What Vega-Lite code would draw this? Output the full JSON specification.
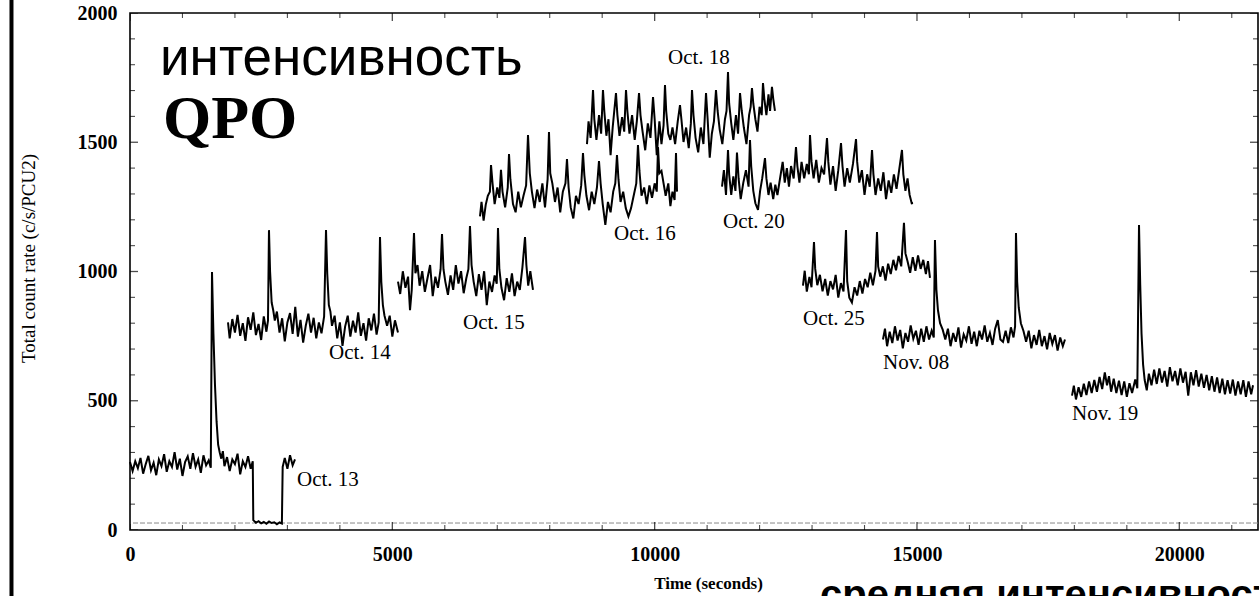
{
  "$schema": "https://vega.github.io/schema/vega-lite/v6.json",
  "width": 1128,
  "height": 517,
  "autosize": "none",
  "padding": {"left": 130, "top": 13, "right": 1, "bottom": 66},
  "background": "white",
  "config": {
    "view": {"stroke": "black", "strokeWidth": 1.6},
    "axis": {"grid": false, "domain": false, "labelFont": "Liberation Serif", "labelFontWeight": "bold", "labelFontSize": 20, "labelColor": "black", "tickColor": "black", "tickWidth": 1.2, "titleFont": "Liberation Serif", "titleColor": "black", "titleFontWeight": "normal", "labelFlush": false, "labelOverlap": false, "format": "d"}
  },
  "resolve": {"axis": {"x": "independent", "y": "independent"}},
  "datasets": {
    "lc": [
      {"s":"a","t":0,"r":263},{"s":"a","t":50,"r":228},{"s":"a","t":100,"r":266},{"s":"a","t":150,"r":239},{"s":"a","t":200,"r":279},{"s":"a","t":250,"r":218},{"s":"a","t":300,"r":255},{"s":"a","t":350,"r":287},{"s":"a","t":400,"r":231},{"s":"a","t":450,"r":260},{"s":"a","t":500,"r":212},{"s":"a","t":550,"r":273},{"s":"a","t":600,"r":247},{"s":"a","t":650,"r":293},{"s":"a","t":700,"r":225},{"s":"a","t":750,"r":266},{"s":"a","t":800,"r":244},{"s":"a","t":850,"r":301},{"s":"a","t":900,"r":234},{"s":"a","t":950,"r":276},{"s":"a","t":1000,"r":209},{"s":"a","t":1050,"r":263},{"s":"a","t":1100,"r":285},{"s":"a","t":1150,"r":237},{"s":"a","t":1200,"r":297},{"s":"a","t":1250,"r":245},{"s":"a","t":1300,"r":273},{"s":"a","t":1350,"r":221},{"s":"a","t":1400,"r":289},{"s":"a","t":1450,"r":250},{"s":"a","t":1500,"r":269},{"s":"a","t":1540,"r":241},{"s":"a","t":1563,"r":998},{"s":"a","t":1590,"r":760},{"s":"a","t":1620,"r":560},{"s":"a","t":1650,"r":420},{"s":"a","t":1680,"r":330},{"s":"a","t":1710,"r":300},{"s":"a","t":1740,"r":276},{"s":"a","t":1770,"r":305},{"s":"a","t":1800,"r":247},{"s":"a","t":1850,"r":282},{"s":"a","t":1900,"r":228},{"s":"a","t":1950,"r":273},{"s":"a","t":2000,"r":255},{"s":"a","t":2050,"r":295},{"s":"a","t":2100,"r":215},{"s":"a","t":2150,"r":266},{"s":"a","t":2200,"r":244},{"s":"a","t":2250,"r":285},{"s":"a","t":2300,"r":237},{"s":"a","t":2340,"r":266},{"s":"a","t":2350,"r":38},{"s":"a","t":2400,"r":28},{"s":"a","t":2450,"r":34},{"s":"a","t":2500,"r":26},{"s":"a","t":2550,"r":31},{"s":"a","t":2600,"r":24},{"s":"a","t":2650,"r":33},{"s":"a","t":2700,"r":27},{"s":"a","t":2750,"r":30},{"s":"a","t":2800,"r":22},{"s":"a","t":2850,"r":29},{"s":"a","t":2895,"r":25},{"s":"a","t":2910,"r":244},{"s":"a","t":2950,"r":279},{"s":"a","t":3000,"r":237},{"s":"a","t":3050,"r":289},{"s":"a","t":3100,"r":250},{"s":"a","t":3145,"r":273},
      {"s":"b","t":1868,"r":803},{"s":"b","t":1900,"r":741},{"s":"b","t":1950,"r":816},{"s":"b","t":2000,"r":764},{"s":"b","t":2050,"r":832},{"s":"b","t":2100,"r":751},{"s":"b","t":2150,"r":800},{"s":"b","t":2200,"r":732},{"s":"b","t":2250,"r":823},{"s":"b","t":2300,"r":774},{"s":"b","t":2350,"r":842},{"s":"b","t":2400,"r":754},{"s":"b","t":2450,"r":797},{"s":"b","t":2500,"r":735},{"s":"b","t":2550,"r":826},{"s":"b","t":2600,"r":767},{"s":"b","t":2630,"r":810},{"s":"b","t":2649,"r":1160},{"s":"b","t":2670,"r":1000},{"s":"b","t":2700,"r":880},{"s":"b","t":2730,"r":850},{"s":"b","t":2760,"r":810},{"s":"b","t":2800,"r":845},{"s":"b","t":2850,"r":764},{"s":"b","t":2900,"r":819},{"s":"b","t":2950,"r":730},{"s":"b","t":3000,"r":803},{"s":"b","t":3050,"r":839},{"s":"b","t":3100,"r":759},{"s":"b","t":3150,"r":863},{"s":"b","t":3200,"r":748},{"s":"b","t":3250,"r":813},{"s":"b","t":3300,"r":725},{"s":"b","t":3350,"r":790},{"s":"b","t":3400,"r":837},{"s":"b","t":3450,"r":764},{"s":"b","t":3500,"r":821},{"s":"b","t":3550,"r":741},{"s":"b","t":3600,"r":803},{"s":"b","t":3650,"r":761},{"s":"b","t":3700,"r":826},{"s":"b","t":3736,"r":1160},{"s":"b","t":3760,"r":990},{"s":"b","t":3790,"r":870},{"s":"b","t":3820,"r":845},{"s":"b","t":3850,"r":790},{"s":"b","t":3900,"r":829},{"s":"b","t":3950,"r":741},{"s":"b","t":4000,"r":803},{"s":"b","t":4050,"r":712},{"s":"b","t":4100,"r":787},{"s":"b","t":4150,"r":829},{"s":"b","t":4200,"r":748},{"s":"b","t":4250,"r":810},{"s":"b","t":4300,"r":764},{"s":"b","t":4350,"r":842},{"s":"b","t":4400,"r":751},{"s":"b","t":4450,"r":800},{"s":"b","t":4500,"r":733},{"s":"b","t":4550,"r":819},{"s":"b","t":4600,"r":772},{"s":"b","t":4650,"r":837},{"s":"b","t":4700,"r":756},{"s":"b","t":4740,"r":803},{"s":"b","t":4765,"r":1133},{"s":"b","t":4790,"r":960},{"s":"b","t":4820,"r":870},{"s":"b","t":4850,"r":830},{"s":"b","t":4900,"r":790},{"s":"b","t":4950,"r":829},{"s":"b","t":5000,"r":748},{"s":"b","t":5050,"r":811},{"s":"b","t":5108,"r":764},
      {"s":"c","t":5108,"r":961},{"s":"c","t":5150,"r":913},{"s":"c","t":5200,"r":1001},{"s":"c","t":5250,"r":937},{"s":"c","t":5300,"r":980},{"s":"c","t":5337,"r":850},{"s":"c","t":5370,"r":929},{"s":"c","t":5413,"r":1149},{"s":"c","t":5440,"r":993},{"s":"c","t":5480,"r":1025},{"s":"c","t":5520,"r":945},{"s":"c","t":5570,"r":1001},{"s":"c","t":5620,"r":921},{"s":"c","t":5670,"r":974},{"s":"c","t":5720,"r":1025},{"s":"c","t":5770,"r":905},{"s":"c","t":5820,"r":980},{"s":"c","t":5870,"r":937},{"s":"c","t":5920,"r":1009},{"s":"c","t":5947,"r":1145},{"s":"c","t":5975,"r":1009},{"s":"c","t":6010,"r":961},{"s":"c","t":6060,"r":910},{"s":"c","t":6110,"r":985},{"s":"c","t":6160,"r":929},{"s":"c","t":6210,"r":1025},{"s":"c","t":6260,"r":953},{"s":"c","t":6310,"r":1001},{"s":"c","t":6360,"r":916},{"s":"c","t":6410,"r":974},{"s":"c","t":6450,"r":1009},{"s":"c","t":6480,"r":1176},{"s":"c","t":6510,"r":1025},{"s":"c","t":6550,"r":961},{"s":"c","t":6600,"r":905},{"s":"c","t":6650,"r":990},{"s":"c","t":6700,"r":929},{"s":"c","t":6750,"r":1001},{"s":"c","t":6800,"r":870},{"s":"c","t":6850,"r":961},{"s":"c","t":6900,"r":921},{"s":"c","t":6950,"r":985},{"s":"c","t":6990,"r":953},{"s":"c","t":7014,"r":1168},{"s":"c","t":7040,"r":1009},{"s":"c","t":7080,"r":937},{"s":"c","t":7130,"r":889},{"s":"c","t":7180,"r":974},{"s":"c","t":7230,"r":921},{"s":"c","t":7280,"r":993},{"s":"c","t":7330,"r":905},{"s":"c","t":7380,"r":961},{"s":"c","t":7430,"r":929},{"s":"c","t":7480,"r":1017},{"s":"c","t":7529,"r":1133},{"s":"c","t":7555,"r":1025},{"s":"c","t":7590,"r":945},{"s":"c","t":7630,"r":1001},{"s":"c","t":7681,"r":929},
      {"s":"d","t":6671,"r":1213},{"s":"d","t":6700,"r":1269},{"s":"d","t":6740,"r":1197},{"s":"d","t":6780,"r":1258},{"s":"d","t":6820,"r":1293},{"s":"d","t":6860,"r":1309},{"s":"d","t":6881,"r":1412},{"s":"d","t":6910,"r":1341},{"s":"d","t":6950,"r":1261},{"s":"d","t":7000,"r":1325},{"s":"d","t":7040,"r":1285},{"s":"d","t":7071,"r":1393},{"s":"d","t":7100,"r":1309},{"s":"d","t":7150,"r":1248},{"s":"d","t":7200,"r":1325},{"s":"d","t":7224,"r":1454},{"s":"d","t":7250,"r":1357},{"s":"d","t":7300,"r":1261},{"s":"d","t":7350,"r":1229},{"s":"d","t":7400,"r":1309},{"s":"d","t":7450,"r":1248},{"s":"d","t":7500,"r":1293},{"s":"d","t":7550,"r":1333},{"s":"d","t":7586,"r":1528},{"s":"d","t":7620,"r":1380},{"s":"d","t":7660,"r":1309},{"s":"d","t":7710,"r":1245},{"s":"d","t":7760,"r":1317},{"s":"d","t":7810,"r":1269},{"s":"d","t":7860,"r":1341},{"s":"d","t":7910,"r":1248},{"s":"d","t":7960,"r":1357},{"s":"d","t":7986,"r":1540},{"s":"d","t":8010,"r":1380},{"s":"d","t":8050,"r":1341},{"s":"d","t":8100,"r":1269},{"s":"d","t":8150,"r":1325},{"s":"d","t":8200,"r":1229},{"s":"d","t":8250,"r":1309},{"s":"d","t":8300,"r":1341},{"s":"d","t":8329,"r":1435},{"s":"d","t":8360,"r":1325},{"s":"d","t":8400,"r":1248},{"s":"d","t":8450,"r":1205},{"s":"d","t":8500,"r":1293},{"s":"d","t":8550,"r":1261},{"s":"d","t":8600,"r":1333},{"s":"d","t":8634,"r":1458},{"s":"d","t":8660,"r":1373},{"s":"d","t":8700,"r":1293},{"s":"d","t":8750,"r":1237},{"s":"d","t":8800,"r":1309},{"s":"d","t":8850,"r":1261},{"s":"d","t":8900,"r":1325},{"s":"d","t":8939,"r":1427},{"s":"d","t":8970,"r":1341},{"s":"d","t":9010,"r":1261},{"s":"d","t":9060,"r":1180},{"s":"d","t":9110,"r":1269},{"s":"d","t":9160,"r":1229},{"s":"d","t":9210,"r":1309},{"s":"d","t":9250,"r":1341},{"s":"d","t":9282,"r":1450},{"s":"d","t":9310,"r":1357},{"s":"d","t":9350,"r":1269},{"s":"d","t":9400,"r":1309},{"s":"d","t":9450,"r":1245},{"s":"d","t":9500,"r":1213},{"s":"d","t":9550,"r":1245},{"s":"d","t":9600,"r":1293},{"s":"d","t":9650,"r":1341},{"s":"d","t":9682,"r":1489},{"s":"d","t":9710,"r":1389},{"s":"d","t":9750,"r":1293},{"s":"d","t":9800,"r":1325},{"s":"d","t":9850,"r":1261},{"s":"d","t":9900,"r":1333},{"s":"d","t":9950,"r":1285},{"s":"d","t":10000,"r":1341},{"s":"d","t":10040,"r":1309},{"s":"d","t":10064,"r":1481},{"s":"d","t":10090,"r":1380},{"s":"d","t":10130,"r":1389},{"s":"d","t":10170,"r":1341},{"s":"d","t":10210,"r":1293},{"s":"d","t":10260,"r":1341},{"s":"d","t":10300,"r":1253},{"s":"d","t":10340,"r":1309},{"s":"d","t":10380,"r":1277},{"s":"d","t":10407,"r":1458},{"s":"d","t":10426,"r":1309},
      {"s":"e","t":8710,"r":1493},{"s":"e","t":8740,"r":1581},{"s":"e","t":8780,"r":1517},{"s":"e","t":8825,"r":1702},{"s":"e","t":8850,"r":1589},{"s":"e","t":8890,"r":1509},{"s":"e","t":8940,"r":1605},{"s":"e","t":8980,"r":1533},{"s":"e","t":9015,"r":1702},{"s":"e","t":9040,"r":1621},{"s":"e","t":9080,"r":1525},{"s":"e","t":9120,"r":1589},{"s":"e","t":9160,"r":1450},{"s":"e","t":9200,"r":1557},{"s":"e","t":9230,"r":1621},{"s":"e","t":9263,"r":1690},{"s":"e","t":9290,"r":1605},{"s":"e","t":9330,"r":1525},{"s":"e","t":9380,"r":1597},{"s":"e","t":9420,"r":1541},{"s":"e","t":9454,"r":1702},{"s":"e","t":9480,"r":1621},{"s":"e","t":9520,"r":1533},{"s":"e","t":9570,"r":1605},{"s":"e","t":9620,"r":1509},{"s":"e","t":9660,"r":1581},{"s":"e","t":9702,"r":1690},{"s":"e","t":9730,"r":1605},{"s":"e","t":9770,"r":1541},{"s":"e","t":9820,"r":1469},{"s":"e","t":9870,"r":1573},{"s":"e","t":9920,"r":1517},{"s":"e","t":9969,"r":1675},{"s":"e","t":10000,"r":1589},{"s":"e","t":10040,"r":1450},{"s":"e","t":10090,"r":1581},{"s":"e","t":10130,"r":1493},{"s":"e","t":10170,"r":1565},{"s":"e","t":10197,"r":1721},{"s":"e","t":10220,"r":1621},{"s":"e","t":10260,"r":1533},{"s":"e","t":10300,"r":1509},{"s":"e","t":10340,"r":1557},{"s":"e","t":10390,"r":1493},{"s":"e","t":10440,"r":1581},{"s":"e","t":10483,"r":1644},{"s":"e","t":10510,"r":1589},{"s":"e","t":10550,"r":1501},{"s":"e","t":10600,"r":1557},{"s":"e","t":10650,"r":1477},{"s":"e","t":10690,"r":1573},{"s":"e","t":10712,"r":1702},{"s":"e","t":10740,"r":1605},{"s":"e","t":10780,"r":1517},{"s":"e","t":10830,"r":1461},{"s":"e","t":10880,"r":1557},{"s":"e","t":10930,"r":1493},{"s":"e","t":10979,"r":1690},{"s":"e","t":11010,"r":1589},{"s":"e","t":11050,"r":1440},{"s":"e","t":11090,"r":1533},{"s":"e","t":11130,"r":1581},{"s":"e","t":11169,"r":1702},{"s":"e","t":11200,"r":1621},{"s":"e","t":11240,"r":1549},{"s":"e","t":11290,"r":1493},{"s":"e","t":11340,"r":1589},{"s":"e","t":11370,"r":1621},{"s":"e","t":11398,"r":1772},{"s":"e","t":11420,"r":1650},{"s":"e","t":11460,"r":1573},{"s":"e","t":11500,"r":1509},{"s":"e","t":11550,"r":1605},{"s":"e","t":11590,"r":1533},{"s":"e","t":11627,"r":1690},{"s":"e","t":11660,"r":1621},{"s":"e","t":11700,"r":1557},{"s":"e","t":11750,"r":1493},{"s":"e","t":11800,"r":1605},{"s":"e","t":11830,"r":1637},{"s":"e","t":11855,"r":1710},{"s":"e","t":11880,"r":1650},{"s":"e","t":11920,"r":1589},{"s":"e","t":11960,"r":1541},{"s":"e","t":12000,"r":1637},{"s":"e","t":12040,"r":1605},{"s":"e","t":12065,"r":1729},{"s":"e","t":12090,"r":1669},{"s":"e","t":12130,"r":1605},{"s":"e","t":12170,"r":1685},{"s":"e","t":12200,"r":1621},{"s":"e","t":12236,"r":1714},{"s":"e","t":12260,"r":1669},{"s":"e","t":12293,"r":1621},
      {"s":"f","t":11284,"r":1328},{"s":"f","t":11320,"r":1392},{"s":"f","t":11360,"r":1296},{"s":"f","t":11398,"r":1470},{"s":"f","t":11420,"r":1376},{"s":"f","t":11460,"r":1296},{"s":"f","t":11500,"r":1368},{"s":"f","t":11540,"r":1312},{"s":"f","t":11569,"r":1460},{"s":"f","t":11600,"r":1360},{"s":"f","t":11640,"r":1280},{"s":"f","t":11690,"r":1344},{"s":"f","t":11740,"r":1392},{"s":"f","t":11790,"r":1328},{"s":"f","t":11817,"r":1509},{"s":"f","t":11840,"r":1408},{"s":"f","t":11880,"r":1312},{"s":"f","t":11920,"r":1264},{"s":"f","t":11970,"r":1238},{"s":"f","t":12010,"r":1312},{"s":"f","t":12050,"r":1360},{"s":"f","t":12103,"r":1439},{"s":"f","t":12130,"r":1360},{"s":"f","t":12170,"r":1296},{"s":"f","t":12210,"r":1344},{"s":"f","t":12260,"r":1280},{"s":"f","t":12300,"r":1336},{"s":"f","t":12340,"r":1296},{"s":"f","t":12440,"r":1424},{"s":"f","t":12480,"r":1344},{"s":"f","t":12520,"r":1400},{"s":"f","t":12560,"r":1328},{"s":"f","t":12600,"r":1408},{"s":"f","t":12650,"r":1360},{"s":"f","t":12694,"r":1481},{"s":"f","t":12720,"r":1408},{"s":"f","t":12760,"r":1344},{"s":"f","t":12800,"r":1424},{"s":"f","t":12850,"r":1360},{"s":"f","t":12900,"r":1416},{"s":"f","t":12940,"r":1376},{"s":"f","t":12961,"r":1528},{"s":"f","t":12990,"r":1424},{"s":"f","t":13030,"r":1360},{"s":"f","t":13080,"r":1432},{"s":"f","t":13130,"r":1344},{"s":"f","t":13180,"r":1400},{"s":"f","t":13230,"r":1376},{"s":"f","t":13285,"r":1516},{"s":"f","t":13310,"r":1424},{"s":"f","t":13350,"r":1336},{"s":"f","t":13400,"r":1408},{"s":"f","t":13450,"r":1312},{"s":"f","t":13500,"r":1392},{"s":"f","t":13552,"r":1497},{"s":"f","t":13580,"r":1408},{"s":"f","t":13620,"r":1328},{"s":"f","t":13670,"r":1400},{"s":"f","t":13720,"r":1344},{"s":"f","t":13780,"r":1416},{"s":"f","t":13838,"r":1512},{"s":"f","t":13860,"r":1424},{"s":"f","t":13900,"r":1344},{"s":"f","t":13950,"r":1392},{"s":"f","t":14000,"r":1296},{"s":"f","t":14050,"r":1376},{"s":"f","t":14100,"r":1328},{"s":"f","t":14143,"r":1470},{"s":"f","t":14170,"r":1376},{"s":"f","t":14210,"r":1296},{"s":"f","t":14260,"r":1360},{"s":"f","t":14310,"r":1312},{"s":"f","t":14360,"r":1384},{"s":"f","t":14410,"r":1280},{"s":"f","t":14460,"r":1352},{"s":"f","t":14510,"r":1304},{"s":"f","t":14560,"r":1376},{"s":"f","t":14610,"r":1320},{"s":"f","t":14660,"r":1392},{"s":"f","t":14714,"r":1470},{"s":"f","t":14740,"r":1376},{"s":"f","t":14780,"r":1312},{"s":"f","t":14820,"r":1360},{"s":"f","t":14860,"r":1296},{"s":"f","t":14900,"r":1264},{"s":"f","t":14924,"r":1265},
      {"s":"g","t":12827,"r":945},{"s":"g","t":12860,"r":1003},{"s":"g","t":12900,"r":922},{"s":"g","t":12950,"r":979},{"s":"g","t":12990,"r":939},{"s":"g","t":13037,"r":1114},{"s":"g","t":13060,"r":1011},{"s":"g","t":13100,"r":947},{"s":"g","t":13150,"r":987},{"s":"g","t":13200,"r":923},{"s":"g","t":13250,"r":971},{"s":"g","t":13300,"r":907},{"s":"g","t":13350,"r":963},{"s":"g","t":13400,"r":931},{"s":"g","t":13450,"r":987},{"s":"g","t":13500,"r":899},{"s":"g","t":13550,"r":955},{"s":"g","t":13600,"r":923},{"s":"g","t":13647,"r":1160},{"s":"g","t":13670,"r":963},{"s":"g","t":13710,"r":899},{"s":"g","t":13760,"r":880},{"s":"g","t":13810,"r":939},{"s":"g","t":13860,"r":907},{"s":"g","t":13910,"r":963},{"s":"g","t":13960,"r":915},{"s":"g","t":14010,"r":971},{"s":"g","t":14060,"r":939},{"s":"g","t":14110,"r":995},{"s":"g","t":14160,"r":947},{"s":"g","t":14210,"r":1003},{"s":"g","t":14238,"r":1153},{"s":"g","t":14260,"r":1020},{"s":"g","t":14300,"r":980},{"s":"g","t":14350,"r":1020},{"s":"g","t":14400,"r":965},{"s":"g","t":14450,"r":1030},{"s":"g","t":14500,"r":990},{"s":"g","t":14550,"r":1045},{"s":"g","t":14600,"r":1005},{"s":"g","t":14650,"r":1060},{"s":"g","t":14700,"r":1020},{"s":"g","t":14752,"r":1188},{"s":"g","t":14780,"r":1070},{"s":"g","t":14820,"r":1040},{"s":"g","t":14870,"r":995},{"s":"g","t":14920,"r":1055},{"s":"g","t":14970,"r":1003},{"s":"g","t":15020,"r":1062},{"s":"g","t":15070,"r":1010},{"s":"g","t":15120,"r":1045},{"s":"g","t":15170,"r":990},{"s":"g","t":15210,"r":1040},{"s":"g","t":15248,"r":975},
      {"s":"h","t":14352,"r":737},{"s":"h","t":14390,"r":779},{"s":"h","t":14430,"r":711},{"s":"h","t":14480,"r":767},{"s":"h","t":14530,"r":723},{"s":"h","t":14580,"r":788},{"s":"h","t":14630,"r":733},{"s":"h","t":14680,"r":774},{"s":"h","t":14730,"r":703},{"s":"h","t":14780,"r":762},{"s":"h","t":14830,"r":728},{"s":"h","t":14880,"r":791},{"s":"h","t":14930,"r":740},{"s":"h","t":14980,"r":771},{"s":"h","t":15030,"r":716},{"s":"h","t":15080,"r":779},{"s":"h","t":15130,"r":728},{"s":"h","t":15180,"r":788},{"s":"h","t":15230,"r":737},{"s":"h","t":15280,"r":771},{"s":"h","t":15320,"r":745},{"s":"h","t":15343,"r":1122},{"s":"h","t":15370,"r":930},{"s":"h","t":15400,"r":850},{"s":"h","t":15440,"r":800},{"s":"h","t":15490,"r":775},{"s":"h","t":15540,"r":737},{"s":"h","t":15590,"r":779},{"s":"h","t":15640,"r":711},{"s":"h","t":15690,"r":762},{"s":"h","t":15740,"r":728},{"s":"h","t":15790,"r":784},{"s":"h","t":15840,"r":706},{"s":"h","t":15890,"r":757},{"s":"h","t":15940,"r":733},{"s":"h","t":15990,"r":788},{"s":"h","t":16040,"r":720},{"s":"h","t":16090,"r":767},{"s":"h","t":16140,"r":711},{"s":"h","t":16190,"r":771},{"s":"h","t":16240,"r":737},{"s":"h","t":16290,"r":791},{"s":"h","t":16340,"r":728},{"s":"h","t":16390,"r":762},{"s":"h","t":16440,"r":716},{"s":"h","t":16490,"r":779},{"s":"h","t":16540,"r":812},{"s":"h","t":16590,"r":737},{"s":"h","t":16640,"r":728},{"s":"h","t":16690,"r":771},{"s":"h","t":16740,"r":723},{"s":"h","t":16790,"r":784},{"s":"h","t":16840,"r":745},{"s":"h","t":16870,"r":788},{"s":"h","t":16887,"r":1149},{"s":"h","t":16910,"r":960},{"s":"h","t":16940,"r":860},{"s":"h","t":16980,"r":800},{"s":"h","t":17030,"r":770},{"s":"h","t":17080,"r":728},{"s":"h","t":17130,"r":771},{"s":"h","t":17180,"r":703},{"s":"h","t":17230,"r":754},{"s":"h","t":17280,"r":716},{"s":"h","t":17330,"r":774},{"s":"h","t":17380,"r":711},{"s":"h","t":17430,"r":750},{"s":"h","t":17480,"r":699},{"s":"h","t":17530,"r":762},{"s":"h","t":17580,"r":720},{"s":"h","t":17630,"r":754},{"s":"h","t":17680,"r":694},{"s":"h","t":17730,"r":745},{"s":"h","t":17780,"r":711},{"s":"h","t":17821,"r":737},
      {"s":"i","t":17955,"r":520},{"s":"i","t":17990,"r":558},{"s":"i","t":18030,"r":505},{"s":"i","t":18080,"r":552},{"s":"i","t":18130,"r":515},{"s":"i","t":18180,"r":566},{"s":"i","t":18230,"r":522},{"s":"i","t":18280,"r":575},{"s":"i","t":18330,"r":530},{"s":"i","t":18380,"r":580},{"s":"i","t":18430,"r":535},{"s":"i","t":18480,"r":592},{"s":"i","t":18530,"r":545},{"s":"i","t":18580,"r":610},{"s":"i","t":18622,"r":560},{"s":"i","t":18660,"r":595},{"s":"i","t":18700,"r":535},{"s":"i","t":18750,"r":585},{"s":"i","t":18800,"r":530},{"s":"i","t":18850,"r":578},{"s":"i","t":18900,"r":522},{"s":"i","t":18950,"r":575},{"s":"i","t":19000,"r":515},{"s":"i","t":19050,"r":568},{"s":"i","t":19100,"r":530},{"s":"i","t":19160,"r":582},{"s":"i","t":19200,"r":548},{"s":"i","t":19232,"r":1180},{"s":"i","t":19255,"r":950},{"s":"i","t":19280,"r":760},{"s":"i","t":19310,"r":640},{"s":"i","t":19340,"r":580},{"s":"i","t":19380,"r":540},{"s":"i","t":19420,"r":605},{"s":"i","t":19470,"r":560},{"s":"i","t":19520,"r":620},{"s":"i","t":19570,"r":565},{"s":"i","t":19620,"r":625},{"s":"i","t":19670,"r":570},{"s":"i","t":19720,"r":615},{"s":"i","t":19770,"r":555},{"s":"i","t":19820,"r":630},{"s":"i","t":19870,"r":575},{"s":"i","t":19920,"r":615},{"s":"i","t":19970,"r":560},{"s":"i","t":20020,"r":625},{"s":"i","t":20070,"r":570},{"s":"i","t":20120,"r":612},{"s":"i","t":20170,"r":520},{"s":"i","t":20220,"r":610},{"s":"i","t":20270,"r":560},{"s":"i","t":20320,"r":618},{"s":"i","t":20370,"r":555},{"s":"i","t":20420,"r":605},{"s":"i","t":20470,"r":550},{"s":"i","t":20520,"r":600},{"s":"i","t":20570,"r":540},{"s":"i","t":20620,"r":595},{"s":"i","t":20670,"r":535},{"s":"i","t":20720,"r":590},{"s":"i","t":20770,"r":530},{"s":"i","t":20820,"r":585},{"s":"i","t":20870,"r":525},{"s":"i","t":20920,"r":580},{"s":"i","t":20970,"r":528},{"s":"i","t":21020,"r":582},{"s":"i","t":21070,"r":520},{"s":"i","t":21120,"r":575},{"s":"i","t":21170,"r":525},{"s":"i","t":21220,"r":580},{"s":"i","t":21270,"r":515},{"s":"i","t":21320,"r":575},{"s":"i","t":21370,"r":525},{"s":"i","t":21405,"r":560}
    ],
    "labels": [
      {"t":3183,"r":193,"label":"Oct. 13"},{"t":3793,"r":685,"label":"Oct. 14"},{"t":6347,"r":801,"label":"Oct. 15"},{"t":9225,"r":1145,"label":"Oct. 16"},{"t":10254,"r":1826,"label":"Oct. 18"},{"t":11303,"r":1191,"label":"Oct. 20"},{"t":12827,"r":816,"label":"Oct. 25"},{"t":14352,"r":646,"label":"Nov. 08"},{"t":17955,"r":449,"label":"Nov. 19"}
    ],
    "xmajor": [{"t":0},{"t":5000},{"t":10000},{"t":15000},{"t":20000}],
    "xminor": [{"t":1000},{"t":2000},{"t":3000},{"t":4000},{"t":6000},{"t":7000},{"t":8000},{"t":9000},{"t":11000},{"t":12000},{"t":13000},{"t":14000},{"t":16000},{"t":17000},{"t":18000},{"t":19000},{"t":21000}],
    "ymajor": [{"r":0},{"r":500},{"r":1000},{"r":1500},{"r":2000}],
    "yminor": [{"r":100},{"r":200},{"r":300},{"r":400},{"r":600},{"r":700},{"r":800},{"r":900},{"r":1100},{"r":1200},{"r":1300},{"r":1400},{"r":1600},{"r":1700},{"r":1800},{"r":1900}]
  },
  "layer": [
    {
      "data": {"values": [{"t":-2259,"r":2100,"r2":-300}]},
      "mark": {"type": "rule", "color": "black", "strokeWidth": 4, "clip": false},
      "encoding": {
        "x": {"field": "t", "type": "quantitative", "scale": {"domain": [0, 21500], "nice": false, "zero": false}, "axis": null},
        "y": {"field": "r", "type": "quantitative", "scale": {"domain": [0, 2000], "nice": false, "zero": false}, "axis": null},
        "y2": {"field": "r2"}
      }
    },
    {
      "data": {"values": [{"r": 27}]},
      "mark": {"type": "rule", "color": "#8a8a8a", "strokeWidth": 1, "strokeDash": [5, 2]},
      "encoding": {
        "y": {"field": "r", "type": "quantitative", "scale": {"domain": [0, 2000], "nice": false, "zero": false}, "axis": null}
      }
    },
    {
      "data": {"name": "lc"},
      "mark": {"type": "line", "color": "black", "strokeWidth": 2},
      "encoding": {
        "detail": {"field": "s"},
        "x": {"field": "t", "type": "quantitative", "scale": {"domain": [0, 21500], "nice": false, "zero": false},
          "axis": {"orient": "bottom", "values": [0, 5000, 10000, 15000, 20000], "ticks": false, "labelPadding": 14, "title": "Time (seconds)", "titleFontSize": 17, "titleFontWeight": "bold", "titleX": 578, "titleY": 53, "titleBaseline": "middle", "titleAlign": "center"}},
        "y": {"field": "r", "type": "quantitative", "scale": {"domain": [0, 2000], "nice": false, "zero": false},
          "axis": {"orient": "left", "values": [0, 500, 1000, 1500, 2000], "ticks": false, "labelPadding": 13, "title": "Total count rate (c/s/PCU2)", "titleFontSize": 19, "titleX": -102, "titleY": 245, "titleAngle": -90, "titleBaseline": "middle", "titleAlign": "center"}}
      }
    },
    {
      "data": {"name": "xmajor"},
      "mark": {"type": "tick", "orient": "vertical", "color": "black", "size": 16, "thickness": 1.3, "clip": true},
      "encoding": {
        "x": {"field": "t", "type": "quantitative", "scale": {"domain": [0, 21500], "nice": false, "zero": false}, "axis": null},
        "y": {"datum": 0, "type": "quantitative", "scale": {"domain": [0, 2000], "nice": false, "zero": false}, "axis": null}
      }
    },
    {
      "data": {"name": "xmajor"},
      "mark": {"type": "tick", "orient": "vertical", "color": "black", "size": 16, "thickness": 1.3, "clip": true},
      "encoding": {
        "x": {"field": "t", "type": "quantitative", "scale": {"domain": [0, 21500], "nice": false, "zero": false}, "axis": null},
        "y": {"datum": 2000, "type": "quantitative", "scale": {"domain": [0, 2000], "nice": false, "zero": false}, "axis": null}
      }
    },
    {
      "data": {"name": "xminor"},
      "mark": {"type": "tick", "orient": "vertical", "color": "black", "size": 10, "thickness": 1.1, "clip": true},
      "encoding": {
        "x": {"field": "t", "type": "quantitative", "scale": {"domain": [0, 21500], "nice": false, "zero": false}, "axis": null},
        "y": {"datum": 0, "type": "quantitative", "scale": {"domain": [0, 2000], "nice": false, "zero": false}, "axis": null}
      }
    },
    {
      "data": {"name": "xminor"},
      "mark": {"type": "tick", "orient": "vertical", "color": "black", "size": 10, "thickness": 1.1, "clip": true},
      "encoding": {
        "x": {"field": "t", "type": "quantitative", "scale": {"domain": [0, 21500], "nice": false, "zero": false}, "axis": null},
        "y": {"datum": 2000, "type": "quantitative", "scale": {"domain": [0, 2000], "nice": false, "zero": false}, "axis": null}
      }
    },
    {
      "data": {"name": "ymajor"},
      "mark": {"type": "tick", "orient": "horizontal", "color": "black", "size": 16, "thickness": 1.3, "clip": true},
      "encoding": {
        "y": {"field": "r", "type": "quantitative", "scale": {"domain": [0, 2000], "nice": false, "zero": false}, "axis": null},
        "x": {"datum": 0, "type": "quantitative", "scale": {"domain": [0, 21500], "nice": false, "zero": false}, "axis": null}
      }
    },
    {
      "data": {"name": "ymajor"},
      "mark": {"type": "tick", "orient": "horizontal", "color": "black", "size": 16, "thickness": 1.3, "clip": true},
      "encoding": {
        "y": {"field": "r", "type": "quantitative", "scale": {"domain": [0, 2000], "nice": false, "zero": false}, "axis": null},
        "x": {"datum": 21500, "type": "quantitative", "scale": {"domain": [0, 21500], "nice": false, "zero": false}, "axis": null}
      }
    },
    {
      "data": {"name": "yminor"},
      "mark": {"type": "tick", "orient": "horizontal", "color": "black", "size": 10, "thickness": 1.1, "clip": true},
      "encoding": {
        "y": {"field": "r", "type": "quantitative", "scale": {"domain": [0, 2000], "nice": false, "zero": false}, "axis": null},
        "x": {"datum": 0, "type": "quantitative", "scale": {"domain": [0, 21500], "nice": false, "zero": false}, "axis": null}
      }
    },
    {
      "data": {"name": "yminor"},
      "mark": {"type": "tick", "orient": "horizontal", "color": "black", "size": 10, "thickness": 1.1, "clip": true},
      "encoding": {
        "y": {"field": "r", "type": "quantitative", "scale": {"domain": [0, 2000], "nice": false, "zero": false}, "axis": null},
        "x": {"datum": 21500, "type": "quantitative", "scale": {"domain": [0, 21500], "nice": false, "zero": false}, "axis": null}
      }
    },
    {
      "data": {"name": "labels"},
      "mark": {"type": "text", "align": "left", "baseline": "middle", "font": "Liberation Serif", "fontSize": 21, "color": "black"},
      "encoding": {
        "x": {"field": "t", "type": "quantitative", "scale": {"domain": [0, 21500], "nice": false, "zero": false}, "axis": null},
        "y": {"field": "r", "type": "quantitative", "scale": {"domain": [0, 2000], "nice": false, "zero": false}, "axis": null},
        "text": {"field": "label"}
      }
    },
    {
      "data": {"values": [{"t":572,"r":1760,"note":"интенсивность"}]},
      "mark": {"type": "text", "align": "left", "baseline": "alphabetic", "font": "Liberation Sans", "fontSize": 53, "color": "black"},
      "encoding": {
        "x": {"field": "t", "type": "quantitative", "scale": {"domain": [0, 21500], "nice": false, "zero": false}, "axis": null},
        "y": {"field": "r", "type": "quantitative", "scale": {"domain": [0, 2000], "nice": false, "zero": false}, "axis": null},
        "text": {"field": "note"}
      }
    },
    {
      "data": {"values": [{"t":629,"r":1516,"note":"QPO"}]},
      "mark": {"type": "text", "align": "left", "baseline": "alphabetic", "font": "Liberation Serif", "fontWeight": "bold", "fontSize": 62, "color": "black"},
      "encoding": {
        "x": {"field": "t", "type": "quantitative", "scale": {"domain": [0, 21500], "nice": false, "zero": false}, "axis": null},
        "y": {"field": "r", "type": "quantitative", "scale": {"domain": [0, 2000], "nice": false, "zero": false}, "axis": null},
        "text": {"field": "note"}
      }
    },
    {
      "data": {"values": [{"t":13151,"r":-300,"note":"средняя интенсивность"}]},
      "mark": {"type": "text", "align": "left", "baseline": "alphabetic", "font": "Liberation Sans", "fontWeight": "bold", "fontSize": 40, "color": "black"},
      "encoding": {
        "x": {"field": "t", "type": "quantitative", "scale": {"domain": [0, 21500], "nice": false, "zero": false}, "axis": null},
        "y": {"field": "r", "type": "quantitative", "scale": {"domain": [0, 2000], "nice": false, "zero": false}, "axis": null},
        "text": {"field": "note"}
      }
    }
  ]
}
